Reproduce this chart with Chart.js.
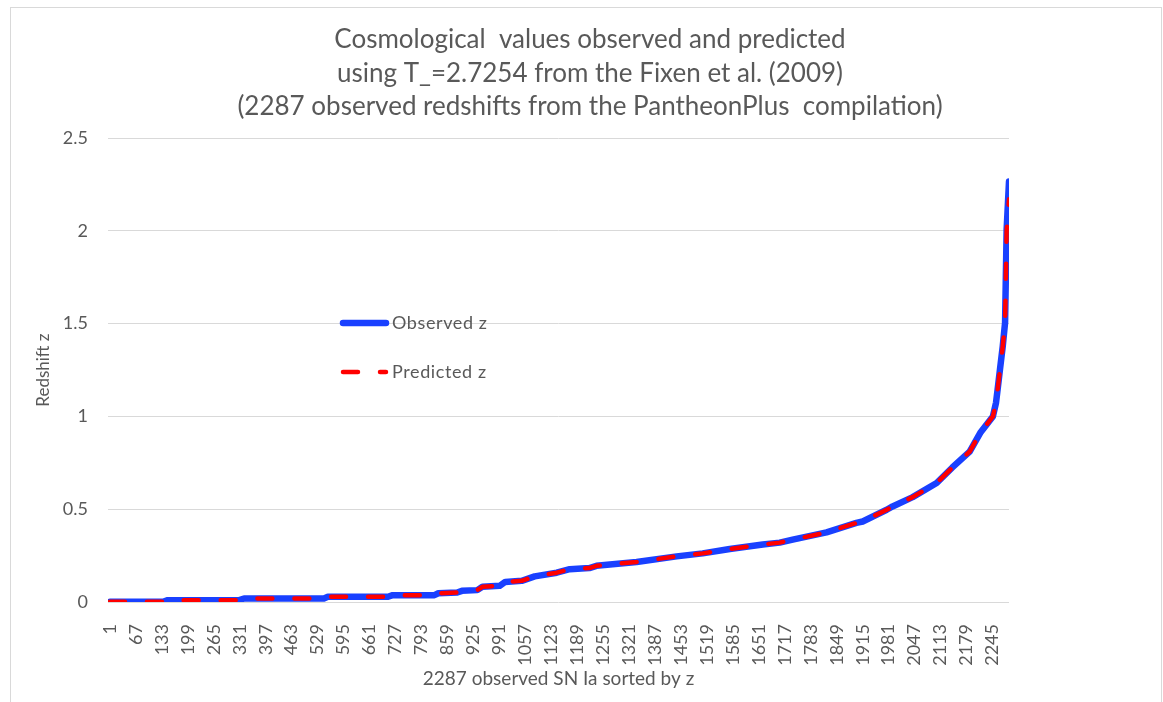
<!DOCTYPE html>
<html>
<head>
<meta charset="utf-8">
<title>Cosmological values observed and predicted</title>
<script src="https://cdn.jsdelivr.net/npm/chart.js@4.4.1/dist/chart.umd.min.js"></script>
<style>
  html, body { margin: 0; padding: 0; background: #fff; overflow: hidden; }
  #wrap { position: relative; width: 1163px; height: 702px; }
  #frame { position: absolute; left: 10px; top: 7px; width: 1150px; height: 720px; border: 1px solid #d9d9d9; pointer-events: none; }
</style>
</head>
<body>
<div id="wrap">
  <canvas id="zChart"></canvas>
  <div id="frame"></div>
</div>
<script>
// Position of the SN in the z-sorted list, at the points
const snIndex = [1, 136, 148, 330, 342, 545, 555, 708, 720, 826, 836, 884, 896, 935, 948, 992,
  1006, 1048, 1081, 1137, 1170, 1220, 1238, 1340, 1442, 1508, 1577, 1661, 1704, 1737, 1823,
  1899, 1915, 1976, 1991, 2042, 2103, 2143, 2187, 2215, 2246, 2254, 2258, 2261, 2264, 2271,
  2277, 2281, 2287];

const observedZ = [0.001, 0.001, 0.010, 0.010, 0.019, 0.019, 0.028, 0.028, 0.037, 0.037, 0.047, 0.051, 0.060, 0.064, 0.082, 0.087,
  0.108, 0.114, 0.138, 0.158, 0.177, 0.183, 0.195, 0.216, 0.246, 0.262, 0.286, 0.310, 0.320, 0.336, 0.375,
  0.426, 0.434, 0.497, 0.515, 0.565, 0.641, 0.725, 0.811, 0.915, 1.000, 1.074, 1.144, 1.198, 1.252, 1.376,
  1.505, 2.006, 2.266];

const predictedZ = [0.001, 0.001, 0.010, 0.010, 0.019, 0.019, 0.028, 0.028, 0.037, 0.037, 0.047, 0.051, 0.060, 0.064, 0.082, 0.087,
  0.108, 0.114, 0.138, 0.158, 0.177, 0.183, 0.195, 0.216, 0.246, 0.262, 0.286, 0.310, 0.320, 0.336, 0.375,
  0.426, 0.434, 0.497, 0.515, 0.565, 0.641, 0.725, 0.811, 0.915, 1.000, 1.074, 1.144, 1.198, 1.252, 1.376,
  1.505, 2.000, 2.170];

const xTickLabels = [1, 67, 133, 199, 265, 331, 397, 463, 529, 595, 661, 727, 793, 859, 925, 991,
  1057, 1123, 1189, 1255, 1321, 1387, 1453, 1519, 1585, 1651, 1717, 1783, 1849, 1915, 1981,
  2047, 2113, 2179, 2245];
const yTickLabels = [0, 0.5, 1, 1.5, 2, 2.5];

const titleLines = [
  'Cosmological  values observed and predicted',
  'using T_=2.7254 from the Fixen et al. (2009)',
  '(2287 observed redshifts from the PantheonPlus  compilation)'
];

const textColor = '#595959';
const gridColor = '#d9d9d9';
const fontFamily = 'Lato, "Liberation Sans", sans-serif';

const toPoints = (values) => snIndex.map((x, i) => ({ x: x, y: values[i] }));

// legend drawn inside the plot, left of centre, like the Excel original
const insideLegend = {
  id: 'insideLegend',
  afterDatasetsDraw(chart) {
    const { ctx, chartArea } = chart;
    const x0 = chartArea.left + 232;
    const rows = [chartArea.top + 185, chartArea.top + 234];
    chart.data.datasets.forEach((ds, i) => {
      const y = rows[i];
      ctx.save();
      ctx.strokeStyle = ds.borderColor;
      ctx.lineWidth = ds.borderWidth;
      ctx.lineCap = 'round';
      ctx.setLineDash(ds.borderDash || []);
      ctx.beginPath();
      ctx.moveTo(x0 + 3, y);
      ctx.lineTo(x0 + 46, y);
      ctx.stroke();
      ctx.setLineDash([]);
      ctx.fillStyle = textColor;
      ctx.font = '18px ' + fontFamily;
      ctx.letterSpacing = '0.6px';
      ctx.textBaseline = 'middle';
      ctx.fillText(ds.label, x0 + 52, y);
      ctx.restore();
    });
  }
};

const ctx = document.getElementById('zChart').getContext('2d');
new Chart(ctx, {
  type: 'line',
  data: {
    datasets: [
      {
        label: 'Observed z',
        data: toPoints(observedZ),
        borderColor: '#1940ff',
        borderWidth: 6.5,
        borderCapStyle: 'round',
        borderJoinStyle: 'round',
        pointRadius: 0,
        tension: 0,
        order: 2
      },
      {
        label: 'Predicted z',
        data: toPoints(predictedZ),
        borderColor: '#ff0000',
        borderWidth: 4.5,
        borderDash: [15, 22],
        borderCapStyle: 'round',
        borderJoinStyle: 'round',
        pointRadius: 0,
        tension: 0,
        order: 1
      }
    ]
  },
  options: {
    responsive: true,
    maintainAspectRatio: false,
    animation: false,
    layout: { padding: { left: 30, right: 13, top: 0, bottom: 0 } },
    plugins: {
      legend: { display: false },
      tooltip: { enabled: false },
      title: {
        display: true,
        text: titleLines,
        color: textColor,
        font: { family: fontFamily, size: 26, weight: 'normal', lineHeight: 1.29 },
        padding: { top: 23, bottom: 14.5 }
      }
    },
    scales: {
      x: {
        type: 'linear',
        min: -4,
        max: 2287,
        afterBuildTicks: (scale) => {
          scale.ticks = xTickLabels.map((v) => ({ value: v }));
        },
        afterFit: (scale) => {
          scale.height = 100;
        },
        grid: { display: false },
        border: { display: false },
        ticks: {
          autoSkip: false,
          maxRotation: 90,
          minRotation: 90,
          padding: 14,
          color: textColor,
          font: { family: fontFamily, size: 18 },
          callback: (v) => String(v)
        },
        title: {
          display: true,
          text: '2287 observed SN Ia sorted by z',
          color: textColor,
          font: { family: fontFamily, size: 19, lineHeight: 1.2 },
          padding: { top: 0, bottom: 12 }
        }
      },
      y: {
        min: 0,
        max: 2.5,
        afterBuildTicks: (scale) => {
          scale.ticks = yTickLabels.map((v) => ({ value: v }));
        },
        afterFit: (scale) => {
          scale.width = 78;
        },
        grid: { color: gridColor, lineWidth: 1, drawTicks: false },
        border: { display: false },
        ticks: {
          padding: 20,
          color: textColor,
          font: { family: fontFamily, size: 18 },
          callback: (v) => String(v)
        },
        title: {
          display: true,
          text: 'Redshift z',
          color: textColor,
          font: { family: fontFamily, size: 17, lineHeight: 1.2 },
          padding: { top: 3, bottom: 0 }
        }
      },
      // empty right-hand axis: keeps the plot narrower than the title block
      yRight: {
        position: 'right',
        afterFit: (scale) => {
          scale.width = 141;
        },
        grid: { display: false },
        border: { display: false },
        ticks: { display: false }
      }
    }
  },
  plugins: [insideLegend]
});
</script>
</body>
</html>
